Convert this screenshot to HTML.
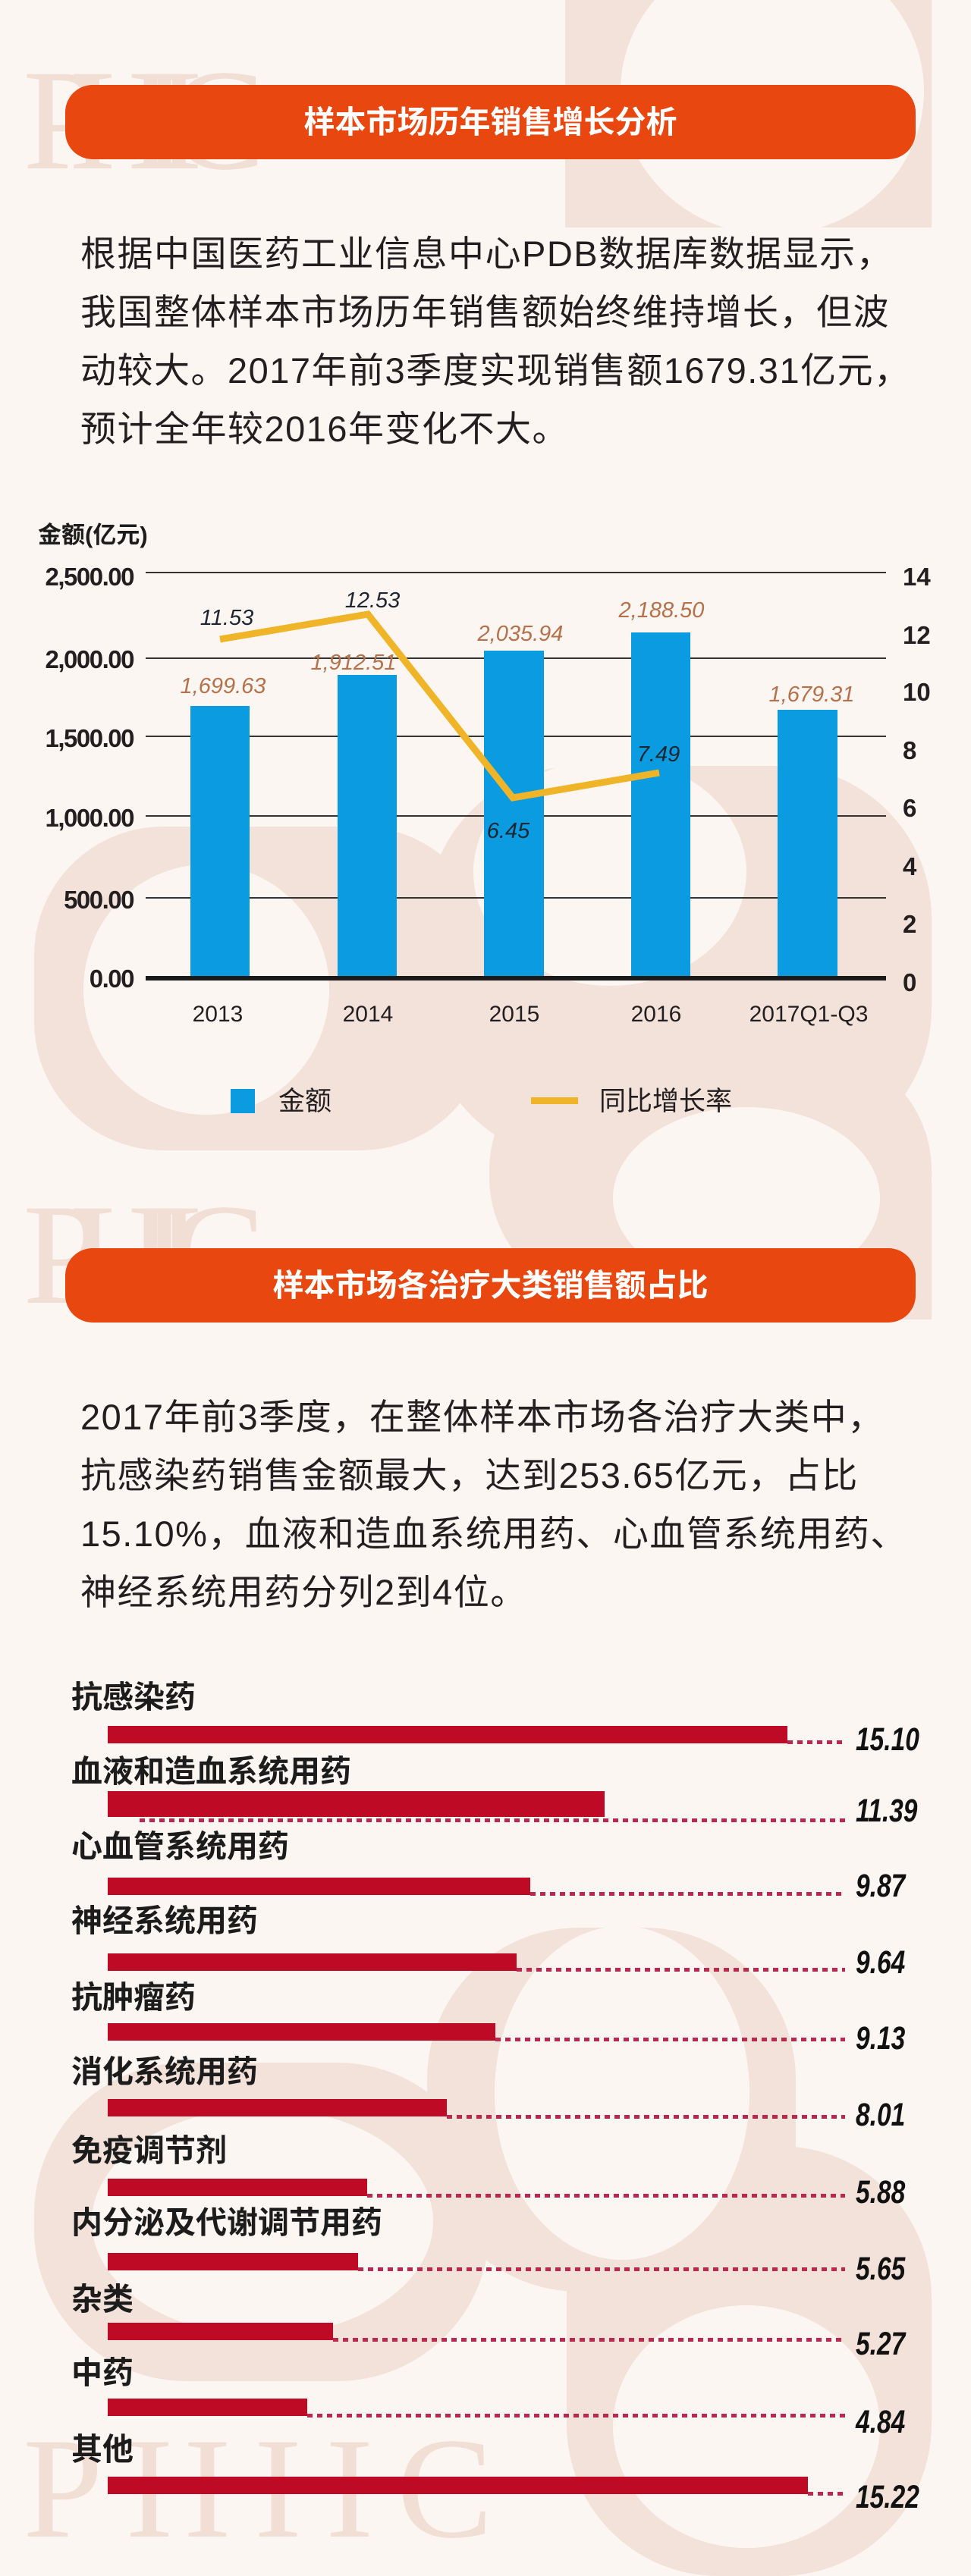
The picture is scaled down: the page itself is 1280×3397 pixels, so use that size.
<!DOCTYPE html>
<html><head><meta charset="utf-8">
<style>
html,body{margin:0;padding:0}
body{width:1280px;height:3397px;position:relative;overflow:hidden;background:#fcf6f2;font-family:"Liberation Sans","Noto Sans CJK SC",sans-serif;}
.abs{position:absolute;white-space:nowrap}
.hdr{position:absolute;left:86px;width:1121px;height:98px;border-radius:36px;background:#e8470f;color:#fff;font-weight:700;font-size:41px;text-align:center;line-height:98px;font-family:"Liberation Sans","Noto Sans CJK SC",sans-serif;}
.para{position:absolute;left:106px;font-size:47px;line-height:77px;color:#231f20;letter-spacing:1.5px;white-space:nowrap;font-family:"Liberation Sans","Noto Sans CJK SC",sans-serif;}
.lbl{position:absolute;left:94px;font-size:41px;font-weight:700;color:#1c1c1c;line-height:50px;height:50px;font-family:"Liberation Sans","Noto Sans CJK SC",sans-serif;}
.bar{position:absolute;left:142px;height:23px;background:#bf0a26}
.dot{position:absolute;height:5px;background:repeating-linear-gradient(90deg,#b8284f 0 7px,transparent 7px 13px)}
.val{position:absolute;left:1128px;font-size:43px;font-weight:700;font-style:italic;color:#111;line-height:50px;transform:scaleX(.78);transform-origin:left center;}
</style></head><body>
<svg class="abs" style="left:0;top:0" width="1280" height="3397" viewBox="0 0 1280 3397">
<g fill="#f3e2da">
<text x="30" y="222" font-family="Liberation Serif" font-size="190" fill="#f1dfd6" textLength="320">PHIIC</text>
<rect x="745" y="-80" width="483" height="380" rx="0"/>
<text x="30" y="1718" font-family="Liberation Serif" font-size="190" fill="#f1dfd6" textLength="320">PHIIC</text>
<rect x="45" y="1090" width="600" height="427" rx="170"/>
<rect x="563" y="1010" width="665" height="520" rx="200"/>
<rect x="645" y="1383" width="583" height="330" rx="160"/>
<rect x="745" y="1560" width="483" height="180" rx="0"/>
<rect x="563" y="2542" width="486" height="480" rx="200"/>
<rect x="45" y="2720" width="600" height="420" rx="200"/>
<rect x="747" y="2830" width="481" height="567" rx="200"/>
<text x="30" y="3345" font-family="Liberation Serif" font-size="190" fill="#f1dfd6" textLength="620">PHIIC</text>
</g>
<g fill="#fcf6f2">
<ellipse cx="1018" cy="120" rx="200" ry="190"/>
<ellipse cx="272" cy="1305" rx="162" ry="165"/>
<ellipse cx="804" cy="1150" rx="180" ry="150"/>
<ellipse cx="984" cy="1580" rx="176" ry="120"/>
<ellipse cx="820" cy="2760" rx="168" ry="220"/>
<ellipse cx="346" cy="2930" rx="225" ry="150"/>
<ellipse cx="984" cy="3200" rx="176" ry="160"/>
</g>
</svg>

<div class="hdr" style="top:112px">样本市场历年销售增长分析</div>
<div class="para" style="top:296px">根据中国医药工业信息中心PDB数据库数据显示，<br>我国整体样本市场历年销售额始终维持增长，但波<br>动较大。2017年前3季度实现销售额1679.31亿元，<br>预计全年较2016年变化不大。</div>

<svg class="abs" style="left:0;top:680px" width="1280" height="830" viewBox="0 680 1280 830">
<g font-family="Liberation Sans, Noto Sans CJK SC, sans-serif">
<text x="50" y="716" font-size="31" font-weight="700" fill="#1c1c1c">金额(亿元)</text>
<g stroke="#333" stroke-width="2">
<line x1="192" y1="755" x2="1168" y2="755"/>
<line x1="192" y1="868" x2="1168" y2="868"/>
<line x1="192" y1="971" x2="1168" y2="971"/>
<line x1="192" y1="1076" x2="1168" y2="1076"/>
<line x1="192" y1="1184" x2="1168" y2="1184"/>
</g>
<g fill="#0a9be0">
<rect x="251" y="931" width="78" height="359"/>
<rect x="445" y="890" width="78" height="400"/>
<rect x="638" y="858" width="79" height="432"/>
<rect x="832" y="834" width="78" height="456"/>
<rect x="1025" y="936" width="79" height="354"/>
</g>
<line x1="192" y1="1290" x2="1168" y2="1290" stroke="#1a1a1a" stroke-width="6"/>
<polyline points="290,843 485,810 676,1052 869,1019" fill="none" stroke="#f0b429" stroke-width="9" stroke-linejoin="miter"/>
<g font-size="33" font-weight="700" fill="#231f20" text-anchor="end" letter-spacing="-1.5">
<text x="176" y="772">2,500.00</text>
<text x="176" y="881">2,000.00</text>
<text x="176" y="985">1,500.00</text>
<text x="176" y="1090">1,000.00</text>
<text x="176" y="1198">500.00</text>
<text x="176" y="1302">0.00</text>
</g>
<g font-size="33" font-weight="700" fill="#231f20">
<text x="1190" y="772">14</text>
<text x="1190" y="849">12</text>
<text x="1190" y="924">10</text>
<text x="1190" y="1001">8</text>
<text x="1190" y="1077">6</text>
<text x="1190" y="1154">4</text>
<text x="1190" y="1230">2</text>
<text x="1190" y="1307">0</text>
</g>
<g font-size="30" fill="#231f20" text-anchor="middle">
<text x="287" y="1347">2013</text>
<text x="485" y="1347">2014</text>
<text x="678" y="1347">2015</text>
<text x="865" y="1347">2016</text>
<text x="1066" y="1347">2017Q1-Q3</text>
</g>
<g font-size="29" font-style="italic" fill="#b5714a" text-anchor="middle">
<text x="294" y="914">1,699.63</text>
<text x="466" y="883">1,912.51</text>
<text x="686" y="845">2,035.94</text>
<text x="872" y="814">2,188.50</text>
<text x="1070" y="925">1,679.31</text>
</g>
<g font-size="29" font-style="italic" fill="#1c2530" text-anchor="middle">
<text x="299" y="824">11.53</text>
<text x="491" y="801">12.53</text>
<text x="670" y="1105">6.45</text>
<text x="868" y="1004">7.49</text>
</g>
<rect x="304" y="1436" width="32" height="32" fill="#0a9be0"/>
<text x="367" y="1464" font-size="35" fill="#231f20">金额</text>
<rect x="700" y="1447" width="62" height="9" fill="#f0b429"/>
<text x="790" y="1464" font-size="35" fill="#231f20">同比增长率</text>
</g>
</svg>

<div class="hdr" style="top:1646px">样本市场各治疗大类销售额占比</div>
<div class="para" style="top:1830px">2017年前3季度，在整体样本市场各治疗大类中，<br>抗感染药销售金额最大，达到253.65亿元，占比<br>15.10%，血液和造血系统用药、心血管系统用药、<br>神经系统用药分列2到4位。</div>

<div class="lbl" style="top:2213px">抗感染药</div>
<div class="bar" style="top:2276px;width:896px"></div>
<div class="dot" style="top:2295px;left:1038px;width:76px"></div>
<div class="val" style="top:2269px">15.10</div>

<div class="lbl" style="top:2311px">血液和造血系统用药</div>
<div class="bar" style="top:2362px;width:655px;height:34px"></div>
<div class="dot" style="top:2398px;left:184px;width:930px"></div>
<div class="val" style="top:2363px">11.39</div>

<div class="lbl" style="top:2410px">心血管系统用药</div>
<div class="bar" style="top:2476px;width:557px"></div>
<div class="dot" style="top:2495px;left:699px;width:415px"></div>
<div class="val" style="top:2462px">9.87</div>

<div class="lbl" style="top:2508px">神经系统用药</div>
<div class="bar" style="top:2576px;width:539px"></div>
<div class="dot" style="top:2595px;left:681px;width:433px"></div>
<div class="val" style="top:2563px">9.64</div>

<div class="lbl" style="top:2609px">抗肿瘤药</div>
<div class="bar" style="top:2668px;width:511px"></div>
<div class="dot" style="top:2687px;left:653px;width:461px"></div>
<div class="val" style="top:2663px">9.13</div>

<div class="lbl" style="top:2707px">消化系统用药</div>
<div class="bar" style="top:2768px;width:447px"></div>
<div class="dot" style="top:2789px;left:589px;width:525px"></div>
<div class="val" style="top:2764px">8.01</div>

<div class="lbl" style="top:2811px">免疫调节剂</div>
<div class="bar" style="top:2873px;width:342px"></div>
<div class="dot" style="top:2893px;left:484px;width:630px"></div>
<div class="val" style="top:2866px">5.88</div>

<div class="lbl" style="top:2906px">内分泌及代谢调节用药</div>
<div class="bar" style="top:2971px;width:330px"></div>
<div class="dot" style="top:2990px;left:472px;width:642px"></div>
<div class="val" style="top:2967px">5.65</div>

<div class="lbl" style="top:3007px">杂类</div>
<div class="bar" style="top:3063px;width:297px"></div>
<div class="dot" style="top:3083px;left:439px;width:675px"></div>
<div class="val" style="top:3066px">5.27</div>

<div class="lbl" style="top:3104px">中药</div>
<div class="bar" style="top:3163px;width:263px"></div>
<div class="dot" style="top:3183px;left:405px;width:709px"></div>
<div class="val" style="top:3169px">4.84</div>

<div class="lbl" style="top:3205px">其他</div>
<div class="bar" style="top:3266px;width:923px"></div>
<div class="dot" style="top:3286px;left:1065px;width:49px"></div>
<div class="val" style="top:3268px">15.22</div>
</body></html>
